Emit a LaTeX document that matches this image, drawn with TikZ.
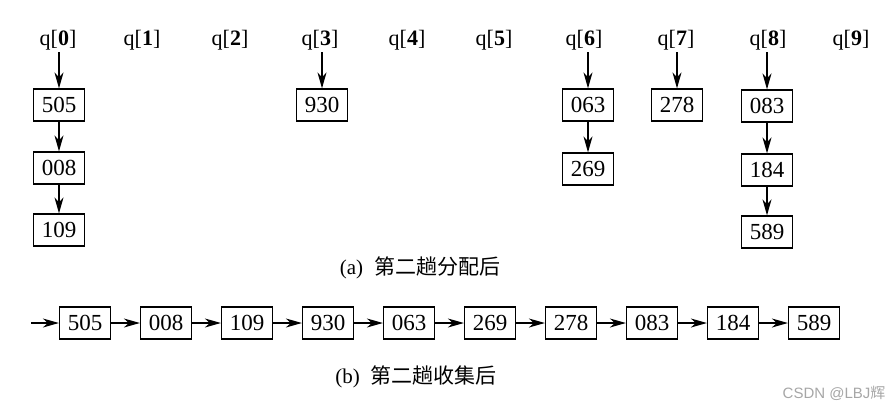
\documentclass[tikz,border=0pt]{standalone}
\usepackage{fontspec}
\setmainfont{Liberation Serif}
\newfontfamily\cjk{Noto Sans CJK SC}
\newfontfamily\wmfont{Liberation Sans}
\usetikzlibrary{arrows.meta}
\begin{document}
\begin{tikzpicture}[x=1pt,y=-1pt,
  box/.style={draw,line width=1.2pt,minimum width=51pt,minimum height=32pt,inner sep=0pt,font=\fontsize{23}{23}\selectfont},
  qlab/.style={inner sep=2pt,font=\fontsize{22}{22}\selectfont},
  arr/.style={line width=1.2pt,-{Stealth[length=16pt,width=9pt,inset=5pt]}},
  captext/.style={font=\fontsize{21}{21}\selectfont}]
\useasboundingbox (0,0) rectangle (892,408);
% labels
\foreach \i/\x in {0/58,1/142,2/230,3/320,4/407,5/494,6/584,7/676,8/768,9/851}
  \node[qlab] (q\i) at (\x,40) {q[\textbf{\i}]};
% column 0
\node[box] (a0) at (59,105) {505};
\node[box] (a1) at (59,168) {008};
\node[box] (a2) at (59,230) {109};
% column 3
\node[box] (b0) at (322,105) {930};
% column 6
\node[box] (c0) at (588,105) {063};
\node[box] (c1) at (588,169) {269};
% column 7
\node[box] (d0) at (677,105) {278};
% column 8
\node[box] (e0) at (767,106) {083};
\node[box] (e1) at (767,170) {184};
\node[box] (e2) at (767,232) {589};
% arrows top
\draw[arr] (a0.north |- q0.south) -- (a0.north);
\draw[arr] (b0.north |- q3.south) -- (b0.north);
\draw[arr] (c0.north |- q6.south) -- (c0.north);
\draw[arr] (d0.north |- q7.south) -- (d0.north);
\draw[arr] (e0.north |- q8.south) -- (e0.north);
\draw[arr] (a0) -- (a1);
\draw[arr] (a1) -- (a2);
\draw[arr] (c0) -- (c1);
\draw[arr] (e0) -- (e1);
\draw[arr] (e1) -- (e2);
% caption a
\node[captext] (capa) at (420,268) {(a)\hspace{11pt}{\cjk 第二趟分配后}};
% bottom row
\coordinate (start) at (31,323);
\foreach \i/\v in {0/505,1/008,2/109,3/930,4/063,5/269,6/278,7/083,8/184,9/589}
  \node[box] (r\i) at ({85+81*\i},323) {\v};
\draw[arr] (start) -- (r0.west);
\foreach \i [evaluate=\i as \j using int(\i+1)] in {0,...,8}
  \draw[arr] (r\i.east) -- (r\j.west);
% caption b
\node[captext] (capb) at (416,377) {(b)\hspace{11pt}{\cjk 第二趟收集后}};
% watermark
\node[text=black!35,font=\wmfont\fontsize{15}{15}\selectfont,anchor=east] (wm) at (889,393) {CSDN @LBJ{\cjk 辉}};
\end{tikzpicture}
\end{document}
